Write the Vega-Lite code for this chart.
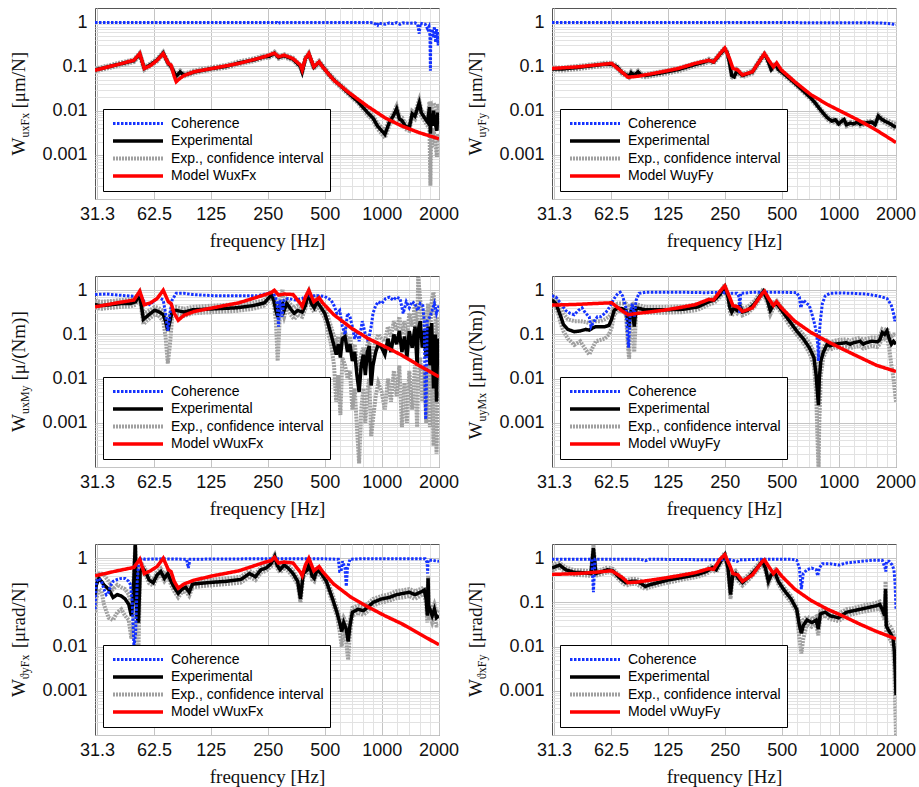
{
"$schema":"https://vega.github.io/schema/vega-lite/v6.json",
"background":"white",
"padding":{"left":8,"top":7,"right":5,"bottom":5},
"columns":2,
"spacing":{"row":77,"column":113},
"bounds":"flush",
"datasets":{
"p1":[
{"f":30.5,"l":0.077,"h":0.089,"e":0.083,"c":0.99,"m":0.082},
{"f":40,"l":0.102,"h":0.118,"e":0.11},{"f":49,"l":0.125,"h":0.145,"e":0.135},{"f":52.6,"l":0.176,"h":0.205,"e":0.19},{"f":55.6,"l":0.083,"h":0.097,"e":0.09},{"f":60,"l":0.102,"h":0.118,"e":0.11},{"f":65,"l":0.13,"h":0.15,"e":0.14},{"f":70,"l":0.186,"h":0.215,"e":0.2},{"f":74.5,"l":0.107,"h":0.124,"e":0.115},{"f":77,"l":0.093,"h":0.108,"e":0.1},{"f":80,"l":0.067,"h":0.078,"e":0.072},{"f":82,"l":0.056,"h":0.065,"e":0.06},{"f":86,"l":0.07,"h":0.081,"e":0.075},{"f":90,"l":0.059,"h":0.068,"e":0.063},{"f":102,"l":0.07,"h":0.081,"e":0.075},{"f":127,"l":0.084,"h":0.097,"e":0.09},{"f":150,"l":0.093,"h":0.108,"e":0.1},{"f":176,"l":0.112,"h":0.13,"e":0.12},{"f":210,"l":0.13,"h":0.151,"e":0.14},{"f":239,"l":0.153,"h":0.178,"e":0.165},{"f":255,"l":0.158,"h":0.184,"e":0.17},{"f":271,"l":0.186,"h":0.216,"e":0.2},{"f":285,"l":0.149,"h":0.173,"e":0.16},{"f":305,"l":0.163,"h":0.189,"e":0.175},{"f":340,"l":0.135,"h":0.157,"e":0.145},{"f":372,"l":0.093,"h":0.108,"e":0.1},{"f":380,"l":0.07,"h":0.081,"e":0.075},{"f":395,"l":0.14,"h":0.162,"e":0.15},{"f":412,"l":0.177,"h":0.205,"e":0.19},{"f":438,"l":0.088,"h":0.103,"e":0.095},{"f":467,"l":0.116,"h":0.135,"e":0.125},{"f":487,"l":0.093,"h":0.108,"e":0.1},{"f":520,"l":0.065,"h":0.076,"e":0.07},{"f":558,"l":0.046,"h":0.054,"e":0.05},{"f":600,"l":0.035,"h":0.041,"e":0.038},{"f":660,"l":0.024,"h":0.028,"e":0.026},{"f":750,"l":0.0147,"h":0.0174,"e":0.016},{"f":843,"l":0.008,"h":0.0101,"e":0.009},{"f":900,"l":0.006,"h":0.0077,"e":0.0068},{"f":950,"l":0.0039,"h":0.0052,"e":0.0045},{"f":1000,"l":0.003,"h":0.0041,"e":0.0035},{"f":1040,"l":0.0024,"h":0.0035,"e":0.0029},{"f":1100,"l":0.0047,"h":0.0064,"e":0.0055},{"f":1150,"l":0.0064,"h":0.0087,"e":0.0075},{"f":1200,"l":0.0094,"h":0.0128,"e":0.011},{"f":1240,"l":0.0055,"h":0.0076,"e":0.0065},{"f":1280,"l":0.0051,"h":0.007,"e":0.006},{"f":1330,"l":0.0038,"h":0.0053,"e":0.0045},{"f":1400,"l":0.0035,"h":0.0048,"e":0.0041},{"f":1450,"l":0.0072,"h":0.0099,"e":0.0085},{"f":1500,"l":0.0064,"h":0.0088,"e":0.0075},{"f":1580,"l":0.0128,"h":0.0176,"e":0.015},{"f":1620,"l":0.0076,"h":0.0105,"e":0.009},{"f":1700,"l":0.0055,"h":0.0076,"e":0.0065},{"f":1750,"l":0.0045,"h":0.0066,"e":0.0055},{"f":1790,"l":0.004,"h":0.016,"e":0.012},{"f":1810,"l":0.0002,"h":0.012,"e":0.003},{"f":1830,"l":0.003,"h":0.013,"e":0.008},{"f":1850,"l":0.0015,"h":0.01,"e":0.0045},{"f":1880,"l":0.004,"h":0.015,"e":0.01},{"f":1920,"l":0.0018,"h":0.012,"e":0.005},{"f":1960,"l":0.0009,"h":0.009,"e":0.0035},{"f":1980,"l":0.003,"h":0.014,"e":0.009},{"f":2010,"l":0.002,"h":0.011,"e":0.006},
{"f":40,"m":0.11},{"f":49,"m":0.138},{"f":52.6,"m":0.195},{"f":55.6,"m":0.09},{"f":60,"m":0.105},{"f":65,"m":0.138},{"f":70,"m":0.195},{"f":74.5,"m":0.117},{"f":77,"m":0.107},{"f":80,"m":0.06},{"f":82,"m":0.045},{"f":85,"m":0.052},{"f":90,"m":0.062},{"f":102,"m":0.076},{"f":127,"m":0.09},{"f":176,"m":0.117},{"f":239,"m":0.165},{"f":271,"m":0.2},{"f":285,"m":0.165},{"f":305,"m":0.18},{"f":340,"m":0.15},{"f":372,"m":0.107},{"f":380,"m":0.083},{"f":395,"m":0.15},{"f":412,"m":0.195},{"f":438,"m":0.098},{"f":467,"m":0.127},{"f":487,"m":0.098},{"f":558,"m":0.049},{"f":660,"m":0.027},{"f":843,"m":0.0125},{"f":1040,"m":0.0069},{"f":1276,"m":0.0045},{"f":1570,"m":0.0032},{"f":2010,"m":0.0023},
{"f":280,"c":0.99},{"f":285,"c":0.93},{"f":290,"c":0.99},{"f":900,"c":0.98},{"f":950,"c":0.85},{"f":960,"c":0.97},{"f":1000,"c":0.92},{"f":1050,"c":0.9},{"f":1100,"c":0.97},{"f":1150,"c":0.93},{"f":1200,"c":0.98},{"f":1250,"c":0.9},{"f":1300,"c":0.97},{"f":1400,"c":0.95},{"f":1500,"c":0.97},{"f":1550,"c":0.9},{"f":1580,"c":0.55},{"f":1600,"c":0.95},{"f":1700,"c":0.9},{"f":1750,"c":0.7},{"f":1780,"c":0.8},{"f":1800,"c":0.5},{"f":1810,"c":0.08},{"f":1820,"c":0.5},{"f":1850,"c":0.7},{"f":1880,"c":0.45},{"f":1900,"c":0.8},{"f":1930,"c":0.35},{"f":1950,"c":0.7},{"f":1970,"c":0.5},{"f":1990,"c":0.3},{"f":2010,"c":0.6}
],
"p2":[
{"f":30.5,"l":0.082,"h":0.095,"e":0.088,"c":0.99,"m":0.09},
{"f":35,"l":0.081,"h":0.095,"e":0.088},{"f":42,"l":0.087,"h":0.103,"e":0.095},{"f":51,"l":0.097,"h":0.113,"e":0.105},{"f":58,"l":0.103,"h":0.121,"e":0.112},{"f":63,"l":0.103,"h":0.121,"e":0.112},{"f":67,"l":0.092,"h":0.108,"e":0.1},{"f":71,"l":0.069,"h":0.081,"e":0.075},{"f":75,"l":0.06,"h":0.07,"e":0.065},{"f":78,"l":0.055,"h":0.065,"e":0.06},{"f":80,"l":0.066,"h":0.078,"e":0.072},{"f":83,"l":0.058,"h":0.068,"e":0.063},{"f":87,"l":0.069,"h":0.081,"e":0.075},{"f":90,"l":0.059,"h":0.069,"e":0.064},{"f":95,"l":0.057,"h":0.067,"e":0.062},{"f":117,"l":0.066,"h":0.078,"e":0.072},{"f":142,"l":0.078,"h":0.092,"e":0.085},{"f":174,"l":0.101,"h":0.119,"e":0.11},{"f":200,"l":0.12,"h":0.14,"e":0.13},{"f":206,"l":0.127,"h":0.149,"e":0.138},{"f":218,"l":0.115,"h":0.135,"e":0.125},{"f":236,"l":0.175,"h":0.205,"e":0.19},{"f":250,"l":0.23,"h":0.27,"e":0.25},{"f":258,"l":0.184,"h":0.216,"e":0.2},{"f":265,"l":0.11,"h":0.13,"e":0.12},{"f":272,"l":0.057,"h":0.067,"e":0.062},{"f":280,"l":0.053,"h":0.063,"e":0.058},{"f":290,"l":0.074,"h":0.086,"e":0.08},{"f":300,"l":0.064,"h":0.076,"e":0.07},{"f":310,"l":0.057,"h":0.067,"e":0.062},{"f":350,"l":0.069,"h":0.081,"e":0.075},{"f":395,"l":0.152,"h":0.178,"e":0.165},{"f":405,"l":0.17,"h":0.2,"e":0.185},{"f":415,"l":0.147,"h":0.173,"e":0.16},{"f":427,"l":0.11,"h":0.13,"e":0.12},{"f":440,"l":0.078,"h":0.092,"e":0.085},{"f":452,"l":0.092,"h":0.108,"e":0.1},{"f":465,"l":0.101,"h":0.119,"e":0.11},{"f":480,"l":0.078,"h":0.092,"e":0.085},{"f":500,"l":0.069,"h":0.081,"e":0.075},{"f":586,"l":0.039,"h":0.045,"e":0.042},{"f":650,"l":0.026,"h":0.03,"e":0.028},{"f":716,"l":0.0175,"h":0.0205,"e":0.019},{"f":760,"l":0.0129,"h":0.0151,"e":0.014},{"f":800,"l":0.0097,"h":0.0113,"e":0.0105},{"f":840,"l":0.0075,"h":0.0089,"e":0.0082},{"f":874,"l":0.0062,"h":0.0074,"e":0.0068},{"f":920,"l":0.0053,"h":0.0063,"e":0.0058},{"f":960,"l":0.0057,"h":0.0067,"e":0.0062},{"f":1000,"l":0.0046,"h":0.0054,"e":0.005},{"f":1040,"l":0.0053,"h":0.0063,"e":0.0058},{"f":1067,"l":0.0058,"h":0.0068,"e":0.0063},{"f":1100,"l":0.0044,"h":0.0052,"e":0.0048},{"f":1150,"l":0.0048,"h":0.0056,"e":0.0052},{"f":1200,"l":0.0046,"h":0.0054,"e":0.005},{"f":1250,"l":0.0051,"h":0.0059,"e":0.0055},{"f":1300,"l":0.0045,"h":0.0053,"e":0.0049},{"f":1400,"l":0.0049,"h":0.0057,"e":0.0053},{"f":1500,"l":0.0051,"h":0.006,"e":0.0055},{"f":1560,"l":0.0044,"h":0.0053,"e":0.0048},{"f":1620,"l":0.0069,"h":0.0081,"e":0.0075},{"f":1680,"l":0.006,"h":0.0071,"e":0.0065},{"f":1750,"l":0.0053,"h":0.0064,"e":0.0058},{"f":1850,"l":0.0047,"h":0.0058,"e":0.0052},{"f":1950,"l":0.004,"h":0.0052,"e":0.0045},{"f":2010,"l":0.0037,"h":0.005,"e":0.0042},
{"f":42,"m":0.098},{"f":51,"m":0.107},{"f":63,"m":0.117},{"f":71,"m":0.076},{"f":77,"m":0.057},{"f":87,"m":0.06},{"f":117,"m":0.076},{"f":142,"m":0.09},{"f":174,"m":0.117},{"f":206,"m":0.138},{"f":218,"m":0.127},{"f":236,"m":0.195},{"f":250,"m":0.26},{"f":265,"m":0.15},{"f":276,"m":0.09},{"f":293,"m":0.083},{"f":310,"m":0.064},{"f":350,"m":0.076},{"f":395,"m":0.165},{"f":405,"m":0.195},{"f":427,"m":0.138},{"f":452,"m":0.098},{"f":470,"m":0.12},{"f":498,"m":0.083},{"f":586,"m":0.045},{"f":716,"m":0.0227},{"f":874,"m":0.0137},{"f":1067,"m":0.0089},{"f":1300,"m":0.0058},{"f":1586,"m":0.0036},{"f":2010,"m":0.0019},
{"f":250,"c":0.99},{"f":255,"c":0.96},{"f":260,"c":0.99},{"f":1500,"c":0.97},{"f":1700,"c":0.96},{"f":1800,"c":0.94},{"f":1900,"c":0.92},{"f":1950,"c":0.9},{"f":2010,"c":0.88}
],
"p3":[
{"f":30.5,"l":0.4,"h":0.58,"e":0.47,"c":0.8,"m":0.42},
{"f":33,"e":0.45,"l":0.38,"h":0.55},{"f":37,"e":0.47,"l":0.4,"h":0.57},{"f":42,"e":0.5,"l":0.42,"h":0.6},{"f":47,"e":0.5,"l":0.43,"h":0.62},{"f":50,"e":0.55,"l":0.47,"h":0.68},{"f":52.5,"e":0.8,"l":0.7,"h":0.92},{"f":55,"e":0.22,"l":0.17,"h":0.3},{"f":57,"e":0.25,"l":0.2,"h":0.32},{"f":60,"e":0.3,"l":0.24,"h":0.36},{"f":63,"e":0.35,"l":0.28,"h":0.42},{"f":66,"e":0.33,"l":0.27,"h":0.4},{"f":70,"e":0.28,"l":0.2,"h":0.34},{"f":72,"e":0.2,"l":0.09,"h":0.26},{"f":74,"e":0.12,"l":0.022,"h":0.16},{"f":76,"e":0.2,"l":0.06,"h":0.28},{"f":78,"e":0.33,"l":0.25,"h":0.4},{"f":82,"e":0.35,"l":0.28,"h":0.42},{"f":90,"e":0.32,"l":0.26,"h":0.38},{"f":100,"e":0.36,"l":0.3,"h":0.42},{"f":130,"e":0.38,"l":0.32,"h":0.45},{"f":170,"e":0.4,"l":0.34,"h":0.48},{"f":210,"e":0.45,"l":0.38,"h":0.52},{"f":240,"e":0.52,"l":0.45,"h":0.6},{"f":255,"e":0.7,"l":0.6,"h":0.82},{"f":262,"e":0.8,"l":0.7,"h":0.95},{"f":270,"e":0.55,"l":0.45,"h":0.7},{"f":276,"e":0.35,"l":0.2,"h":0.5},{"f":282,"e":0.25,"l":0.025,"h":0.45},{"f":290,"e":0.45,"l":0.3,"h":0.6},{"f":299,"e":0.5,"l":0.35,"h":1.05},{"f":305,"e":0.35,"l":0.25,"h":0.5},{"f":315,"e":0.5,"l":0.4,"h":0.62},{"f":330,"e":0.38,"l":0.28,"h":0.48},{"f":345,"e":0.3,"l":0.22,"h":0.4},{"f":360,"e":0.35,"l":0.28,"h":0.45},{"f":380,"e":0.32,"l":0.25,"h":0.4},{"f":395,"e":0.45,"l":0.38,"h":0.55},{"f":405,"e":0.7,"l":0.6,"h":0.85},{"f":412,"e":0.85,"l":0.75,"h":0.98},{"f":425,"e":0.5,"l":0.4,"h":0.62},{"f":440,"e":0.4,"l":0.32,"h":0.5},{"f":455,"e":0.55,"l":0.45,"h":0.68},{"f":475,"e":0.42,"l":0.34,"h":0.52},{"f":500,"e":0.3,"l":0.24,"h":0.38},{"f":520,"e":0.18,"l":0.12,"h":0.25},{"f":540,"e":0.1,"l":0.06,"h":0.15},{"f":560,"e":0.055,"l":0.02,"h":0.09},{"f":575,"e":0.035,"l":0.003,"h":0.06},{"f":590,"e":0.06,"l":0.012,"h":0.09},{"f":605,"e":0.03,"l":0.0015,"h":0.05},{"f":620,"e":0.08,"l":0.03,"h":0.1},{"f":640,"e":0.09,"l":0.02,"h":0.12},{"f":660,"e":0.04,"l":0.01,"h":0.06},{"f":680,"e":0.06,"l":0.015,"h":0.09},{"f":700,"e":0.025,"l":0.002,"h":0.04},{"f":720,"e":0.04,"l":0.006,"h":0.06},{"f":740,"e":0.012,"l":0.0008,"h":0.025},{"f":760,"e":0.005,"l":0.00012,"h":0.015},{"f":780,"e":0.02,"l":0.002,"h":0.035},{"f":800,"e":0.035,"l":0.006,"h":0.05},{"f":820,"e":0.012,"l":0.001,"h":0.025},{"f":840,"e":0.04,"l":0.005,"h":0.06},{"f":860,"e":0.055,"l":0.01,"h":0.08},{"f":880,"e":0.007,"l":0.0005,"h":0.015},{"f":900,"e":0.02,"l":0.0012,"h":0.04},{"f":930,"e":0.04,"l":0.004,"h":0.07},{"f":960,"e":0.06,"l":0.008,"h":0.1},{"f":1000,"e":0.05,"l":0.005,"h":0.08},{"f":1040,"e":0.035,"l":0.002,"h":0.07},{"f":1080,"e":0.08,"l":0.01,"h":0.15},{"f":1120,"e":0.04,"l":0.003,"h":0.09},{"f":1160,"e":0.1,"l":0.015,"h":0.2},{"f":1200,"e":0.06,"l":0.004,"h":0.12},{"f":1240,"e":0.12,"l":0.02,"h":0.25},{"f":1280,"e":0.04,"l":0.0008,"h":0.1},{"f":1320,"e":0.09,"l":0.008,"h":0.2},{"f":1360,"e":0.03,"l":0.001,"h":0.08},{"f":1400,"e":0.12,"l":0.015,"h":0.3},{"f":1450,"e":0.05,"l":0.002,"h":0.15},{"f":1500,"e":0.15,"l":0.02,"h":0.5},{"f":1540,"e":0.02,"l":0.0008,"h":0.08},{"f":1560,"e":0.12,"l":0.01,"h":2.0},{"f":1600,"e":0.2,"l":0.03,"h":0.6},{"f":1640,"e":0.05,"l":0.003,"h":0.15},{"f":1680,"e":0.12,"l":0.015,"h":0.35},{"f":1720,"e":0.03,"l":0.001,"h":0.1},{"f":1760,"e":0.15,"l":0.02,"h":0.5},{"f":1800,"e":0.02,"l":0.0008,"h":0.08},{"f":1840,"e":0.18,"l":0.03,"h":0.6},{"f":1880,"e":0.006,"l":0.0003,"h":0.9},{"f":1920,"e":0.1,"l":0.01,"h":0.3},{"f":1950,"e":0.003,"l":0.0002,"h":0.05},{"f":1980,"e":0.08,"l":0.005,"h":0.25},{"f":2010,"e":0.05,"l":0.004,"h":0.15},
{"f":40,"m":0.52},{"f":49,"m":0.6},{"f":52.6,"m":0.95},{"f":55.6,"m":0.47},{"f":60,"m":0.52},{"f":65,"m":0.65},{"f":70,"m":1.0},{"f":74.5,"m":0.55},{"f":77,"m":0.5},{"f":80,"m":0.3},{"f":84,"m":0.21},{"f":90,"m":0.27},{"f":102,"m":0.33},{"f":128,"m":0.4},{"f":176,"m":0.52},{"f":239,"m":0.78},{"f":260,"m":0.88},{"f":271,"m":1.0},{"f":285,"m":0.78},{"f":305,"m":0.82},{"f":340,"m":0.8},{"f":372,"m":0.5},{"f":380,"m":0.43},{"f":395,"m":0.7},{"f":412,"m":1.0},{"f":438,"m":0.55},{"f":467,"m":0.68},{"f":487,"m":0.52},{"f":558,"m":0.28},{"f":690,"m":0.14},{"f":843,"m":0.082},{"f":1040,"m":0.053},{"f":1276,"m":0.034},{"f":1570,"m":0.02},{"f":2010,"m":0.011},
{"f":35,"c":0.82},{"f":40,"c":0.78},{"f":45,"c":0.75},{"f":50,"c":0.72},{"f":53,"c":0.8},{"f":56,"c":0.5},{"f":58,"c":0.45},{"f":62,"c":0.55},{"f":66,"c":0.7},{"f":70,"c":0.6},{"f":72,"c":0.3},{"f":74,"c":0.12},{"f":76,"c":0.3},{"f":78,"c":0.6},{"f":82,"c":0.85},{"f":90,"c":0.85},{"f":100,"c":0.8},{"f":130,"c":0.75},{"f":170,"c":0.75},{"f":220,"c":0.75},{"f":250,"c":0.85},{"f":265,"c":0.9},{"f":275,"c":0.7},{"f":280,"c":0.5},{"f":285,"c":0.15},{"f":290,"c":0.6},{"f":297,"c":0.25},{"f":305,"c":0.6},{"f":320,"c":0.65},{"f":350,"c":0.6},{"f":380,"c":0.65},{"f":400,"c":0.75},{"f":430,"c":0.75},{"f":470,"c":0.75},{"f":500,"c":0.72},{"f":540,"c":0.6},{"f":560,"c":0.45},{"f":580,"c":0.3},{"f":600,"c":0.35},{"f":620,"c":0.15},{"f":640,"c":0.1},{"f":660,"c":0.3},{"f":680,"c":0.25},{"f":700,"c":0.15},{"f":720,"c":0.08},{"f":740,"c":0.12},{"f":760,"c":0.07},{"f":790,"c":0.2},{"f":820,"c":0.1},{"f":850,"c":0.07},{"f":880,"c":0.15},{"f":900,"c":0.3},{"f":930,"c":0.45},{"f":960,"c":0.55},{"f":1000,"c":0.5},{"f":1050,"c":0.65},{"f":1100,"c":0.7},{"f":1150,"c":0.6},{"f":1200,"c":0.7},{"f":1250,"c":0.65},{"f":1300,"c":0.3},{"f":1350,"c":0.55},{"f":1400,"c":0.4},{"f":1450,"c":0.55},{"f":1500,"c":0.5},{"f":1550,"c":0.35},{"f":1600,"c":0.5},{"f":1650,"c":0.45},{"f":1680,"c":0.2},{"f":1700,"c":0.003},{"f":1710,"c":0.0012},{"f":1720,"c":0.003},{"f":1740,"c":0.2},{"f":1800,"c":0.25},{"f":1850,"c":0.35},{"f":1900,"c":0.5},{"f":1950,"c":0.3},{"f":2010,"c":0.45}
],
"p4":[
{"f":30.5,"l":0.5,"h":0.75,"e":0.6,"c":0.75,"m":0.46},
{"f":32,"e":0.5,"l":0.42,"h":0.65},{"f":33,"e":0.35,"l":0.28,"h":0.5},{"f":34,"e":0.25,"l":0.17,"h":0.4},{"f":35,"e":0.17,"l":0.12,"h":0.3},{"f":37,"e":0.13,"l":0.08,"h":0.22},{"f":40,"e":0.115,"l":0.058,"h":0.2},{"f":43,"e":0.12,"l":0.07,"h":0.2},{"f":46,"e":0.13,"l":0.045,"h":0.19},{"f":48,"e":0.125,"l":0.035,"h":0.18},{"f":50,"e":0.14,"l":0.05,"h":0.2},{"f":52,"e":0.15,"l":0.07,"h":0.2},{"f":55,"e":0.15,"l":0.075,"h":0.2},{"f":58,"e":0.15,"l":0.08,"h":0.22},{"f":61,"e":0.16,"l":0.1,"h":0.25},{"f":63,"e":0.22,"l":0.14,"h":0.3},{"f":65,"e":0.35,"l":0.28,"h":0.45},{"f":68,"e":0.4,"l":0.35,"h":0.5},{"f":72,"e":0.38,"l":0.33,"h":0.5},{"f":75,"e":0.35,"l":0.28,"h":0.5},{"f":77,"e":0.2,"l":0.05,"h":0.45},{"f":78,"e":0.15,"l":0.028,"h":0.3},{"f":79,"e":0.3,"l":0.15,"h":0.45},{"f":81,"e":0.4,"l":0.33,"h":0.48},{"f":83,"e":0.15,"l":0.04,"h":0.3},{"f":85,"e":0.4,"l":0.33,"h":0.48},{"f":95,"e":0.36,"l":0.31,"h":0.42},{"f":120,"e":0.36,"l":0.31,"h":0.42},{"f":150,"e":0.37,"l":0.32,"h":0.43},{"f":180,"e":0.42,"l":0.36,"h":0.48},{"f":206,"e":0.55,"l":0.47,"h":0.62},{"f":220,"e":0.6,"l":0.52,"h":0.68},{"f":236,"e":0.8,"l":0.7,"h":0.9},{"f":250,"e":1.2,"l":1.05,"h":1.35},{"f":260,"e":0.7,"l":0.6,"h":0.8},{"f":266,"e":0.4,"l":0.33,"h":0.48},{"f":272,"e":0.32,"l":0.26,"h":0.38},{"f":280,"e":0.4,"l":0.34,"h":0.47},{"f":290,"e":0.35,"l":0.3,"h":0.42},{"f":300,"e":0.45,"l":0.38,"h":0.52},{"f":310,"e":0.32,"l":0.27,"h":0.38},{"f":330,"e":0.35,"l":0.3,"h":0.42},{"f":360,"e":0.5,"l":0.43,"h":0.58},{"f":400,"e":0.95,"l":0.85,"h":1.08},{"f":420,"e":0.6,"l":0.5,"h":0.7},{"f":435,"e":0.35,"l":0.28,"h":0.42},{"f":450,"e":0.45,"l":0.38,"h":0.52},{"f":470,"e":0.5,"l":0.43,"h":0.58},{"f":500,"e":0.35,"l":0.3,"h":0.41},{"f":550,"e":0.2,"l":0.16,"h":0.24},{"f":600,"e":0.12,"l":0.1,"h":0.15},{"f":650,"e":0.08,"l":0.065,"h":0.1},{"f":700,"e":0.05,"l":0.038,"h":0.065},{"f":740,"e":0.03,"l":0.02,"h":0.04},{"f":760,"e":0.012,"l":0.005,"h":0.02},{"f":775,"e":0.004,"l":0.0003,"h":0.009},{"f":782,"e":0.0025,"l":0.0001,"h":0.006},{"f":790,"e":0.01,"l":0.001,"h":0.02},{"f":805,"e":0.025,"l":0.012,"h":0.035},{"f":830,"e":0.04,"l":0.03,"h":0.05},{"f":870,"e":0.06,"l":0.048,"h":0.072},{"f":900,"e":0.055,"l":0.045,"h":0.065},{"f":950,"e":0.06,"l":0.05,"h":0.072},{"f":1000,"e":0.062,"l":0.05,"h":0.075},{"f":1100,"e":0.065,"l":0.052,"h":0.078},{"f":1150,"e":0.06,"l":0.048,"h":0.072},{"f":1200,"e":0.065,"l":0.052,"h":0.078},{"f":1300,"e":0.07,"l":0.055,"h":0.085},{"f":1350,"e":0.06,"l":0.048,"h":0.072},{"f":1400,"e":0.065,"l":0.05,"h":0.08},{"f":1500,"e":0.07,"l":0.055,"h":0.085},{"f":1600,"e":0.068,"l":0.052,"h":0.085},{"f":1650,"e":0.075,"l":0.06,"h":0.09},{"f":1700,"e":0.11,"l":0.09,"h":0.13},{"f":1750,"e":0.1,"l":0.08,"h":0.12},{"f":1800,"e":0.12,"l":0.09,"h":0.14},{"f":1850,"e":0.08,"l":0.05,"h":0.1},{"f":1900,"e":0.06,"l":0.02,"h":0.09},{"f":1950,"e":0.07,"l":0.01,"h":0.1},{"f":2010,"e":0.06,"l":0.003,"h":0.1},
{"f":42,"m":0.48},{"f":51,"m":0.5},{"f":63,"m":0.52},{"f":71,"m":0.35},{"f":77,"m":0.28},{"f":87,"m":0.3},{"f":117,"m":0.35},{"f":142,"m":0.4},{"f":174,"m":0.47},{"f":206,"m":0.62},{"f":218,"m":0.6},{"f":236,"m":0.95},{"f":250,"m":1.25},{"f":265,"m":0.7},{"f":276,"m":0.45},{"f":293,"m":0.42},{"f":310,"m":0.33},{"f":350,"m":0.4},{"f":395,"m":0.85},{"f":405,"m":0.95},{"f":427,"m":0.65},{"f":452,"m":0.45},{"f":470,"m":0.55},{"f":498,"m":0.4},{"f":586,"m":0.2},{"f":716,"m":0.11},{"f":874,"m":0.069},{"f":1067,"m":0.045},{"f":1300,"m":0.03},{"f":1586,"m":0.02},{"f":2010,"m":0.0145},
{"f":32,"c":0.7},{"f":34,"c":0.5},{"f":36,"c":0.35},{"f":38,"c":0.3},{"f":40,"c":0.28},{"f":42,"c":0.35},{"f":44,"c":0.4},{"f":46,"c":0.3},{"f":48,"c":0.25},{"f":49,"c":0.15},{"f":51,"c":0.2},{"f":53,"c":0.25},{"f":55,"c":0.25},{"f":58,"c":0.3},{"f":60,"c":0.35},{"f":62,"c":0.45},{"f":65,"c":0.65},{"f":68,"c":0.85},{"f":70,"c":0.9},{"f":72,"c":0.75},{"f":75,"c":0.4},{"f":76.5,"c":0.1},{"f":77.5,"c":0.05},{"f":79,"c":0.3},{"f":81,"c":0.5},{"f":83,"c":0.25},{"f":85,"c":0.6},{"f":88,"c":0.85},{"f":95,"c":0.9},{"f":150,"c":0.9},{"f":200,"c":0.88},{"f":240,"c":0.9},{"f":260,"c":0.85},{"f":290,"c":0.85},{"f":298,"c":0.7},{"f":300,"c":0.3},{"f":303,"c":0.85},{"f":350,"c":0.9},{"f":500,"c":0.9},{"f":600,"c":0.88},{"f":620,"c":0.7},{"f":630,"c":0.4},{"f":650,"c":0.6},{"f":680,"c":0.5},{"f":700,"c":0.45},{"f":720,"c":0.3},{"f":740,"c":0.2},{"f":760,"c":0.12},{"f":775,"c":0.06},{"f":782,"c":0.025},{"f":790,"c":0.1},{"f":800,"c":0.2},{"f":820,"c":0.5},{"f":850,"c":0.75},{"f":900,"c":0.85},{"f":1000,"c":0.87},{"f":1200,"c":0.85},{"f":1400,"c":0.82},{"f":1500,"c":0.78},{"f":1600,"c":0.75},{"f":1700,"c":0.7},{"f":1800,"c":0.65},{"f":1850,"c":0.55},{"f":1900,"c":0.45},{"f":1950,"c":0.3},{"f":1980,"c":0.2},{"f":2010,"c":0.28}
],
"p5":[
{"f":30.5,"l":0.06,"h":0.25,"e":0.15,"c":0.07,"m":0.4},
{"f":31,"e":0.25,"l":0.12,"h":0.4},{"f":32,"e":0.35,"l":0.2,"h":0.45},{"f":33,"e":0.3,"l":0.18,"h":0.45},{"f":34,"e":0.25,"l":0.09,"h":0.42},{"f":36,"e":0.2,"l":0.045,"h":0.3},{"f":38,"e":0.13,"l":0.04,"h":0.2},{"f":40,"e":0.15,"l":0.06,"h":0.25},{"f":42,"e":0.14,"l":0.07,"h":0.22},{"f":44,"e":0.12,"l":0.05,"h":0.2},{"f":46,"e":0.09,"l":0.04,"h":0.15},{"f":47.5,"e":0.05,"l":0.015,"h":0.09},{"f":48.5,"e":0.12,"l":0.03,"h":0.2},{"f":49.8,"e":2.0,"l":1.8,"h":2.0},{"f":50.8,"e":0.05,"l":0.01,"h":0.1},{"f":51.8,"e":0.035,"l":0.01,"h":0.06},{"f":52.8,"e":0.5,"l":0.4,"h":0.6},{"f":54.5,"e":0.6,"l":0.5,"h":0.7},{"f":57,"e":0.45,"l":0.38,"h":0.52},{"f":59,"e":0.32,"l":0.27,"h":0.38},{"f":62,"e":0.28,"l":0.24,"h":0.33},{"f":65,"e":0.42,"l":0.36,"h":0.48},{"f":68,"e":0.5,"l":0.43,"h":0.58},{"f":71,"e":0.35,"l":0.3,"h":0.42},{"f":74,"e":0.45,"l":0.38,"h":0.52},{"f":77,"e":0.3,"l":0.25,"h":0.36},{"f":80,"e":0.22,"l":0.18,"h":0.26},{"f":84,"e":0.16,"l":0.13,"h":0.2},{"f":88,"e":0.2,"l":0.17,"h":0.24},{"f":92,"e":0.22,"l":0.18,"h":0.26},{"f":96,"e":0.17,"l":0.14,"h":0.2},{"f":100,"e":0.26,"l":0.22,"h":0.3},{"f":120,"e":0.28,"l":0.24,"h":0.32},{"f":150,"e":0.3,"l":0.26,"h":0.35},{"f":180,"e":0.33,"l":0.28,"h":0.38},{"f":200,"e":0.45,"l":0.38,"h":0.52},{"f":215,"e":0.38,"l":0.32,"h":0.44},{"f":230,"e":0.55,"l":0.47,"h":0.62},{"f":245,"e":0.6,"l":0.52,"h":0.7},{"f":260,"e":0.75,"l":0.65,"h":0.85},{"f":272,"e":1.1,"l":0.95,"h":1.2},{"f":280,"e":0.7,"l":0.6,"h":0.8},{"f":290,"e":0.55,"l":0.47,"h":0.63},{"f":305,"e":0.7,"l":0.6,"h":0.8},{"f":320,"e":0.6,"l":0.52,"h":0.7},{"f":340,"e":0.45,"l":0.38,"h":0.52},{"f":360,"e":0.3,"l":0.25,"h":0.35},{"f":372,"e":0.12,"l":0.1,"h":0.15},{"f":385,"e":0.45,"l":0.38,"h":0.52},{"f":405,"e":0.55,"l":0.47,"h":0.63},{"f":415,"e":0.8,"l":0.7,"h":0.9},{"f":428,"e":0.4,"l":0.33,"h":0.47},{"f":440,"e":0.35,"l":0.3,"h":0.42},{"f":455,"e":0.55,"l":0.47,"h":0.62},{"f":480,"e":0.45,"l":0.38,"h":0.52},{"f":510,"e":0.3,"l":0.25,"h":0.36},{"f":550,"e":0.12,"l":0.1,"h":0.15},{"f":580,"e":0.06,"l":0.05,"h":0.075},{"f":600,"e":0.035,"l":0.022,"h":0.045},{"f":615,"e":0.022,"l":0.01,"h":0.03},{"f":630,"e":0.035,"l":0.025,"h":0.045},{"f":650,"e":0.025,"l":0.012,"h":0.035},{"f":665,"e":0.013,"l":0.005,"h":0.02},{"f":680,"e":0.03,"l":0.02,"h":0.04},{"f":700,"e":0.06,"l":0.05,"h":0.075},{"f":750,"e":0.07,"l":0.058,"h":0.085},{"f":800,"e":0.065,"l":0.052,"h":0.08},{"f":850,"e":0.08,"l":0.065,"h":0.095},{"f":900,"e":0.1,"l":0.085,"h":0.12},{"f":1000,"e":0.12,"l":0.1,"h":0.14},{"f":1100,"e":0.13,"l":0.11,"h":0.155},{"f":1200,"e":0.15,"l":0.125,"h":0.18},{"f":1300,"e":0.16,"l":0.13,"h":0.19},{"f":1400,"e":0.17,"l":0.14,"h":0.2},{"f":1500,"e":0.15,"l":0.12,"h":0.18},{"f":1600,"e":0.17,"l":0.14,"h":0.2},{"f":1680,"e":0.19,"l":0.16,"h":0.22},{"f":1720,"e":0.12,"l":0.09,"h":0.15},{"f":1745,"e":0.05,"l":0.035,"h":0.065},{"f":1760,"e":0.35,"l":0.25,"h":0.4},{"f":1775,"e":0.06,"l":0.04,"h":0.08},{"f":1800,"e":0.07,"l":0.05,"h":0.09},{"f":1850,"e":0.05,"l":0.035,"h":0.065},{"f":1900,"e":0.07,"l":0.05,"h":0.09},{"f":1950,"e":0.045,"l":0.03,"h":0.06},{"f":2010,"e":0.05,"l":0.03,"h":0.07},
{"f":40,"m":0.52},{"f":49,"m":0.62},{"f":52.6,"m":0.95},{"f":55.6,"m":0.45},{"f":60,"m":0.52},{"f":65,"m":0.65},{"f":70,"m":1.0},{"f":74.5,"m":0.55},{"f":77,"m":0.5},{"f":80,"m":0.3},{"f":84,"m":0.21},{"f":90,"m":0.26},{"f":102,"m":0.32},{"f":128,"m":0.4},{"f":176,"m":0.52},{"f":239,"m":0.8},{"f":260,"m":0.88},{"f":271,"m":1.05},{"f":285,"m":0.78},{"f":305,"m":0.82},{"f":340,"m":0.78},{"f":372,"m":0.48},{"f":380,"m":0.4},{"f":395,"m":0.7},{"f":412,"m":1.0},{"f":438,"m":0.52},{"f":467,"m":0.65},{"f":487,"m":0.5},{"f":558,"m":0.26},{"f":690,"m":0.13},{"f":843,"m":0.08},{"f":1040,"m":0.05},{"f":1276,"m":0.033},{"f":1570,"m":0.02},{"f":2010,"m":0.011},
{"f":31,"c":0.3},{"f":32,"c":0.35},{"f":33,"c":0.3},{"f":34,"c":0.2},{"f":35,"c":0.15},{"f":36,"c":0.17},{"f":37,"c":0.25},{"f":38,"c":0.3},{"f":40,"c":0.33},{"f":42,"c":0.35},{"f":44,"c":0.35},{"f":46,"c":0.3},{"f":47,"c":0.25},{"f":48,"c":0.1},{"f":49,"c":0.01},{"f":50,"c":0.02},{"f":51,"c":0.3},{"f":52,"c":0.9},{"f":54,"c":1.0},{"f":56,"c":0.95},{"f":70,"c":0.97},{"f":93,"c":0.95},{"f":95,"c":0.6},{"f":97,"c":0.95},{"f":200,"c":0.97},{"f":500,"c":0.97},{"f":590,"c":0.95},{"f":600,"c":0.5},{"f":610,"c":0.5},{"f":620,"c":0.85},{"f":640,"c":0.6},{"f":650,"c":0.23},{"f":660,"c":0.6},{"f":680,"c":0.95},{"f":800,"c":0.98},{"f":1700,"c":0.97},{"f":1740,"c":0.8},{"f":1750,"c":0.45},{"f":1760,"c":0.9},{"f":1850,"c":0.9},{"f":2010,"c":0.85}
],
"p6":[
{"f":30.5,"l":0.52,"h":0.7,"e":0.6,"c":0.95,"m":0.43},
{"f":32,"e":0.65,"l":0.58,"h":0.75},{"f":33.5,"e":0.7,"l":0.62,"h":0.78},{"f":36,"e":0.55,"l":0.48,"h":0.62},{"f":40,"e":0.48,"l":0.42,"h":0.54},{"f":45,"e":0.47,"l":0.41,"h":0.53},{"f":49,"e":0.45,"l":0.4,"h":0.5},{"f":50.5,"e":1.7,"l":1.5,"h":2.0},{"f":52,"e":0.45,"l":0.4,"h":0.5},{"f":56,"e":0.5,"l":0.44,"h":0.56},{"f":60,"e":0.55,"l":0.48,"h":0.62},{"f":64,"e":0.52,"l":0.46,"h":0.58},{"f":67,"e":0.42,"l":0.37,"h":0.47},{"f":71,"e":0.33,"l":0.29,"h":0.38},{"f":75,"e":0.28,"l":0.24,"h":0.32},{"f":80,"e":0.3,"l":0.26,"h":0.34},{"f":85,"e":0.3,"l":0.26,"h":0.34},{"f":90,"e":0.27,"l":0.23,"h":0.31},{"f":95,"e":0.23,"l":0.2,"h":0.26},{"f":100,"e":0.25,"l":0.22,"h":0.28},{"f":125,"e":0.32,"l":0.28,"h":0.36},{"f":150,"e":0.37,"l":0.33,"h":0.42},{"f":180,"e":0.43,"l":0.38,"h":0.48},{"f":200,"e":0.5,"l":0.44,"h":0.56},{"f":215,"e":0.62,"l":0.55,"h":0.7},{"f":225,"e":0.55,"l":0.48,"h":0.62},{"f":236,"e":0.8,"l":0.7,"h":0.9},{"f":250,"e":1.2,"l":1.05,"h":1.35},{"f":260,"e":0.6,"l":0.52,"h":0.68},{"f":268,"e":0.15,"l":0.12,"h":0.18},{"f":275,"e":0.4,"l":0.34,"h":0.46},{"f":285,"e":0.45,"l":0.38,"h":0.52},{"f":295,"e":0.35,"l":0.3,"h":0.4},{"f":310,"e":0.28,"l":0.24,"h":0.32},{"f":340,"e":0.4,"l":0.35,"h":0.46},{"f":370,"e":0.6,"l":0.52,"h":0.68},{"f":395,"e":0.85,"l":0.75,"h":0.95},{"f":410,"e":0.6,"l":0.52,"h":0.68},{"f":425,"e":0.3,"l":0.26,"h":0.35},{"f":440,"e":0.42,"l":0.36,"h":0.48},{"f":460,"e":0.48,"l":0.42,"h":0.55},{"f":480,"e":0.3,"l":0.26,"h":0.35},{"f":510,"e":0.2,"l":0.17,"h":0.23},{"f":560,"e":0.12,"l":0.1,"h":0.14},{"f":600,"e":0.07,"l":0.06,"h":0.08},{"f":620,"e":0.03,"l":0.015,"h":0.04},{"f":635,"e":0.02,"l":0.007,"h":0.03},{"f":650,"e":0.03,"l":0.015,"h":0.04},{"f":680,"e":0.04,"l":0.033,"h":0.048},{"f":720,"e":0.035,"l":0.028,"h":0.042},{"f":760,"e":0.04,"l":0.033,"h":0.048},{"f":780,"e":0.025,"l":0.018,"h":0.032},{"f":800,"e":0.055,"l":0.045,"h":0.065},{"f":850,"e":0.06,"l":0.05,"h":0.07},{"f":900,"e":0.05,"l":0.042,"h":0.06},{"f":1000,"e":0.045,"l":0.038,"h":0.055},{"f":1100,"e":0.06,"l":0.05,"h":0.07},{"f":1200,"e":0.065,"l":0.055,"h":0.075},{"f":1300,"e":0.07,"l":0.06,"h":0.082},{"f":1400,"e":0.075,"l":0.063,"h":0.088},{"f":1500,"e":0.08,"l":0.067,"h":0.093},{"f":1600,"e":0.085,"l":0.07,"h":0.1},{"f":1650,"e":0.09,"l":0.075,"h":0.105},{"f":1700,"e":0.07,"l":0.058,"h":0.082},{"f":1750,"e":0.05,"l":0.04,"h":0.06},{"f":1770,"e":0.2,"l":0.15,"h":0.3},{"f":1785,"e":0.03,"l":0.02,"h":0.045},{"f":1820,"e":0.025,"l":0.018,"h":0.032},{"f":1880,"e":0.02,"l":0.014,"h":0.028},{"f":1940,"e":0.015,"l":0.01,"h":0.022},{"f":1970,"e":0.008,"l":0.003,"h":0.014},{"f":1990,"e":0.003,"l":0.0005,"h":0.008},{"f":2010,"e":0.0008,"l":0.0001,"h":0.004},
{"f":42,"m":0.45},{"f":51,"m":0.48},{"f":63,"m":0.52},{"f":71,"m":0.38},{"f":77,"m":0.28},{"f":87,"m":0.29},{"f":117,"m":0.35},{"f":142,"m":0.4},{"f":174,"m":0.47},{"f":206,"m":0.58},{"f":218,"m":0.56},{"f":236,"m":0.95},{"f":250,"m":1.2},{"f":265,"m":0.7},{"f":276,"m":0.45},{"f":293,"m":0.42},{"f":310,"m":0.3},{"f":350,"m":0.42},{"f":395,"m":0.85},{"f":405,"m":0.92},{"f":427,"m":0.65},{"f":452,"m":0.45},{"f":470,"m":0.55},{"f":498,"m":0.4},{"f":586,"m":0.2},{"f":716,"m":0.11},{"f":874,"m":0.07},{"f":1067,"m":0.048},{"f":1300,"m":0.032},{"f":1586,"m":0.022},{"f":2010,"m":0.015},
{"f":49.5,"c":0.95},{"f":50.5,"c":0.17},{"f":51.5,"c":0.95},{"f":90,"c":0.95},{"f":95,"c":0.88},{"f":100,"c":0.95},{"f":230,"c":0.92},{"f":260,"c":0.95},{"f":290,"c":0.85},{"f":300,"c":0.92},{"f":400,"c":0.95},{"f":560,"c":0.95},{"f":600,"c":0.9},{"f":620,"c":0.6},{"f":635,"c":0.2},{"f":650,"c":0.45},{"f":680,"c":0.55},{"f":720,"c":0.6},{"f":760,"c":0.55},{"f":775,"c":0.4},{"f":790,"c":0.6},{"f":820,"c":0.75},{"f":900,"c":0.75},{"f":1000,"c":0.7},{"f":1100,"c":0.78},{"f":1300,"c":0.85},{"f":1500,"c":0.9},{"f":1700,"c":0.9},{"f":1760,"c":0.6},{"f":1775,"c":0.5},{"f":1790,"c":0.85},{"f":1850,"c":0.85},{"f":1920,"c":0.7},{"f":1960,"c":0.55},{"f":1985,"c":0.3},{"f":2010,"c":0.07}
]
},
"concat":[
{"width":344,"height":191,"data":{"name":"p1"},"transform":[{"fold":["l","h","e","c","m"],"as":["k","v"]},{"filter":"isValid(datum.v)"}],"layer":[
{"mark":{"type":"line","clip":true},
"encoding":{
"x":{"field":"f","type":"quantitative","scale":{"type":"log","domain":[30.5,2010],"nice":false},"axis":{"title":"frequency [Hz]","values":[31.25,62.5,125,250,500,600,700,800,900,1000,1200,1400,1600,1800,2000],"labelExpr":"datum.value == 31.25 ? '31.3' : (indexof([62.5,125,250,500,1000,2000], datum.value) >= 0 ? toString(datum.value) : '')","gridColor":{"condition":{"test":"indexof([31.25,62.5,125,250,500,1000,2000], datum.value) >= 0","value":"#c4c4c4"},"value":"#e2e2e2"}}},
"y":{"field":"v","type":"quantitative","scale":{"type":"log","domain":[0.0001,2.1],"nice":false},"axis":{"title":"W","titleX":-71,"titleY":147,"titleAngle":270,"titleAlign":"left","titleBaseline":"alphabetic","values":[0.0001,0.0002,0.0003,0.0004,0.0005,0.0006,0.0007,0.0008,0.0009,0.001,0.002,0.003,0.004,0.005,0.006,0.007,0.008,0.009,0.01,0.02,0.03,0.04,0.05,0.06,0.07,0.08,0.09,0.1,0.2,0.3,0.4,0.5,0.6,0.7,0.8,0.9,1],"labelExpr":"indexof([0.001,0.01,0.1,1], datum.value) >= 0 ? toString(datum.value) : ''","gridColor":{"condition":{"test":"indexof([0.0001,0.001,0.01,0.1,1], datum.value) >= 0","value":"#c4c4c4"},"value":"#e2e2e2"}}},
"color":{"field":"k","type":"nominal","scale":{"domain":["c","e","l","h","m"],"range":["#1432ff","#000000","#a0a0a0","#a0a0a0","#ff0000"]},"legend":{"title":null,"values":["c","e","l","m"],"labelExpr":"datum.value == 'c' ? 'Coherence' : datum.value == 'e' ? 'Experimental' : datum.value == 'l' ? 'Exp., confidence interval' : 'Model WuxFx'"}},
"strokeDash":{"field":"k","type":"nominal","scale":{"domain":["c","e","l","h","m"],"range":[[2.5,1.5],[1,0],[2,1],[2,1],[1,0]]},"legend":{"title":null,"values":["c","e","l","m"],"labelExpr":"datum.value == 'c' ? 'Coherence' : datum.value == 'e' ? 'Experimental' : datum.value == 'l' ? 'Exp., confidence interval' : 'Model WuxFx'"}},
"strokeWidth":{"field":"k","type":"nominal","scale":{"type":"ordinal","domain":["c","e","l","h","m"],"range":[3,3.5,4,4,3.5]},"legend":{"title":null,"values":["c","e","l","m"],"labelExpr":"datum.value == 'c' ? 'Coherence' : datum.value == 'e' ? 'Experimental' : datum.value == 'l' ? 'Exp., confidence interval' : 'Model WuxFx'"}}
}},
{"mark":{"type":"line","opacity":0},"encoding":{"x":{"field":"f","type":"quantitative"},"y":{"field":"v","type":"quantitative","axis":{"orient":"left","title":"uxFx","titleFontSize":12,"titleX":-67,"titleY":129,"titleAngle":270,"titleAlign":"left","titleBaseline":"alphabetic","labels":false,"grid":false,"ticks":false,"domain":false}}}},
{"mark":{"type":"line","opacity":0},"encoding":{"x":{"field":"f","type":"quantitative"},"y":{"field":"v","type":"quantitative","axis":{"orient":"left","title":"[μm/N]","titleX":-71,"titleY":100,"titleAngle":270,"titleAlign":"left","titleBaseline":"alphabetic","labels":false,"grid":false,"ticks":false,"domain":false}}}}
],"resolve":{"axis":{"y":"independent"}}},

{"width":344,"height":191,"data":{"name":"p2"},"transform":[{"fold":["l","h","e","c","m"],"as":["k","v"]},{"filter":"isValid(datum.v)"}],"layer":[
{"mark":{"type":"line","clip":true},
"encoding":{
"x":{"field":"f","type":"quantitative","scale":{"type":"log","domain":[30.5,2010],"nice":false},"axis":{"title":"frequency [Hz]","values":[31.25,62.5,125,250,500,600,700,800,900,1000,1200,1400,1600,1800,2000],"labelExpr":"datum.value == 31.25 ? '31.3' : (indexof([62.5,125,250,500,1000,2000], datum.value) >= 0 ? toString(datum.value) : '')","gridColor":{"condition":{"test":"indexof([31.25,62.5,125,250,500,1000,2000], datum.value) >= 0","value":"#c4c4c4"},"value":"#e2e2e2"}}},
"y":{"field":"v","type":"quantitative","scale":{"type":"log","domain":[0.0001,2.1],"nice":false},"axis":{"title":"W","titleX":-71,"titleY":147,"titleAngle":270,"titleAlign":"left","titleBaseline":"alphabetic","values":[0.0001,0.0002,0.0003,0.0004,0.0005,0.0006,0.0007,0.0008,0.0009,0.001,0.002,0.003,0.004,0.005,0.006,0.007,0.008,0.009,0.01,0.02,0.03,0.04,0.05,0.06,0.07,0.08,0.09,0.1,0.2,0.3,0.4,0.5,0.6,0.7,0.8,0.9,1],"labelExpr":"indexof([0.001,0.01,0.1,1], datum.value) >= 0 ? toString(datum.value) : ''","gridColor":{"condition":{"test":"indexof([0.0001,0.001,0.01,0.1,1], datum.value) >= 0","value":"#c4c4c4"},"value":"#e2e2e2"}}},
"color":{"field":"k","type":"nominal","scale":{"domain":["c","e","l","h","m"],"range":["#1432ff","#000000","#a0a0a0","#a0a0a0","#ff0000"]},"legend":{"title":null,"values":["c","e","l","m"],"labelExpr":"datum.value == 'c' ? 'Coherence' : datum.value == 'e' ? 'Experimental' : datum.value == 'l' ? 'Exp., confidence interval' : 'Model WuyFy'"}},
"strokeDash":{"field":"k","type":"nominal","scale":{"domain":["c","e","l","h","m"],"range":[[2.5,1.5],[1,0],[2,1],[2,1],[1,0]]},"legend":{"title":null,"values":["c","e","l","m"],"labelExpr":"datum.value == 'c' ? 'Coherence' : datum.value == 'e' ? 'Experimental' : datum.value == 'l' ? 'Exp., confidence interval' : 'Model WuyFy'"}},
"strokeWidth":{"field":"k","type":"nominal","scale":{"type":"ordinal","domain":["c","e","l","h","m"],"range":[3,3.5,4,4,3.5]},"legend":{"title":null,"values":["c","e","l","m"],"labelExpr":"datum.value == 'c' ? 'Coherence' : datum.value == 'e' ? 'Experimental' : datum.value == 'l' ? 'Exp., confidence interval' : 'Model WuyFy'"}}
}},
{"mark":{"type":"line","opacity":0},"encoding":{"x":{"field":"f","type":"quantitative"},"y":{"field":"v","type":"quantitative","axis":{"orient":"left","title":"uyFy","titleFontSize":12,"titleX":-67,"titleY":129,"titleAngle":270,"titleAlign":"left","titleBaseline":"alphabetic","labels":false,"grid":false,"ticks":false,"domain":false}}}},
{"mark":{"type":"line","opacity":0},"encoding":{"x":{"field":"f","type":"quantitative"},"y":{"field":"v","type":"quantitative","axis":{"orient":"left","title":"[μm/N]","titleX":-71,"titleY":100,"titleAngle":270,"titleAlign":"left","titleBaseline":"alphabetic","labels":false,"grid":false,"ticks":false,"domain":false}}}}
],"resolve":{"axis":{"y":"independent"}}},

{"width":344,"height":191,"data":{"name":"p3"},"transform":[{"fold":["l","h","e","c","m"],"as":["k","v"]},{"filter":"isValid(datum.v)"}],"layer":[
{"mark":{"type":"line","clip":true},
"encoding":{
"x":{"field":"f","type":"quantitative","scale":{"type":"log","domain":[30.5,2010],"nice":false},"axis":{"title":"frequency [Hz]","values":[31.25,62.5,125,250,500,600,700,800,900,1000,1200,1400,1600,1800,2000],"labelExpr":"datum.value == 31.25 ? '31.3' : (indexof([62.5,125,250,500,1000,2000], datum.value) >= 0 ? toString(datum.value) : '')","gridColor":{"condition":{"test":"indexof([31.25,62.5,125,250,500,1000,2000], datum.value) >= 0","value":"#c4c4c4"},"value":"#e2e2e2"}}},
"y":{"field":"v","type":"quantitative","scale":{"type":"log","domain":[0.0001,2.1],"nice":false},"axis":{"title":"W","titleX":-71,"titleY":155.5,"titleAngle":270,"titleAlign":"left","titleBaseline":"alphabetic","values":[0.0001,0.0002,0.0003,0.0004,0.0005,0.0006,0.0007,0.0008,0.0009,0.001,0.002,0.003,0.004,0.005,0.006,0.007,0.008,0.009,0.01,0.02,0.03,0.04,0.05,0.06,0.07,0.08,0.09,0.1,0.2,0.3,0.4,0.5,0.6,0.7,0.8,0.9,1],"labelExpr":"indexof([0.001,0.01,0.1,1], datum.value) >= 0 ? toString(datum.value) : ''","gridColor":{"condition":{"test":"indexof([0.0001,0.001,0.01,0.1,1], datum.value) >= 0","value":"#c4c4c4"},"value":"#e2e2e2"}}},
"color":{"field":"k","type":"nominal","scale":{"domain":["c","e","l","h","m"],"range":["#1432ff","#000000","#a0a0a0","#a0a0a0","#ff0000"]},"legend":{"title":null,"values":["c","e","l","m"],"labelExpr":"datum.value == 'c' ? 'Coherence' : datum.value == 'e' ? 'Experimental' : datum.value == 'l' ? 'Exp., confidence interval' : 'Model νWuxFx'"}},
"strokeDash":{"field":"k","type":"nominal","scale":{"domain":["c","e","l","h","m"],"range":[[2.5,1.5],[1,0],[2,1],[2,1],[1,0]]},"legend":{"title":null,"values":["c","e","l","m"],"labelExpr":"datum.value == 'c' ? 'Coherence' : datum.value == 'e' ? 'Experimental' : datum.value == 'l' ? 'Exp., confidence interval' : 'Model νWuxFx'"}},
"strokeWidth":{"field":"k","type":"nominal","scale":{"type":"ordinal","domain":["c","e","l","h","m"],"range":[3,3.5,4,4,3.5]},"legend":{"title":null,"values":["c","e","l","m"],"labelExpr":"datum.value == 'c' ? 'Coherence' : datum.value == 'e' ? 'Experimental' : datum.value == 'l' ? 'Exp., confidence interval' : 'Model νWuxFx'"}}
}},
{"mark":{"type":"line","opacity":0},"encoding":{"x":{"field":"f","type":"quantitative"},"y":{"field":"v","type":"quantitative","axis":{"orient":"left","title":"uxMy","titleFontSize":12,"titleX":-67,"titleY":137.6,"titleAngle":270,"titleAlign":"left","titleBaseline":"alphabetic","labels":false,"grid":false,"ticks":false,"domain":false}}}},
{"mark":{"type":"line","opacity":0},"encoding":{"x":{"field":"f","type":"quantitative"},"y":{"field":"v","type":"quantitative","axis":{"orient":"left","title":"[μ/(Nm)]","titleX":-71,"titleY":104,"titleAngle":270,"titleAlign":"left","titleBaseline":"alphabetic","labels":false,"grid":false,"ticks":false,"domain":false}}}}
],"resolve":{"axis":{"y":"independent"}}},

{"width":344,"height":191,"data":{"name":"p4"},"transform":[{"fold":["l","h","e","c","m"],"as":["k","v"]},{"filter":"isValid(datum.v)"}],"layer":[
{"mark":{"type":"line","clip":true},
"encoding":{
"x":{"field":"f","type":"quantitative","scale":{"type":"log","domain":[30.5,2010],"nice":false},"axis":{"title":"frequency [Hz]","values":[31.25,62.5,125,250,500,600,700,800,900,1000,1200,1400,1600,1800,2000],"labelExpr":"datum.value == 31.25 ? '31.3' : (indexof([62.5,125,250,500,1000,2000], datum.value) >= 0 ? toString(datum.value) : '')","gridColor":{"condition":{"test":"indexof([31.25,62.5,125,250,500,1000,2000], datum.value) >= 0","value":"#c4c4c4"},"value":"#e2e2e2"}}},
"y":{"field":"v","type":"quantitative","scale":{"type":"log","domain":[0.0001,2.1],"nice":false},"axis":{"title":"W","titleX":-71,"titleY":163,"titleAngle":270,"titleAlign":"left","titleBaseline":"alphabetic","values":[0.0001,0.0002,0.0003,0.0004,0.0005,0.0006,0.0007,0.0008,0.0009,0.001,0.002,0.003,0.004,0.005,0.006,0.007,0.008,0.009,0.01,0.02,0.03,0.04,0.05,0.06,0.07,0.08,0.09,0.1,0.2,0.3,0.4,0.5,0.6,0.7,0.8,0.9,1],"labelExpr":"indexof([0.001,0.01,0.1,1], datum.value) >= 0 ? toString(datum.value) : ''","gridColor":{"condition":{"test":"indexof([0.0001,0.001,0.01,0.1,1], datum.value) >= 0","value":"#c4c4c4"},"value":"#e2e2e2"}}},
"color":{"field":"k","type":"nominal","scale":{"domain":["c","e","l","h","m"],"range":["#1432ff","#000000","#a0a0a0","#a0a0a0","#ff0000"]},"legend":{"title":null,"values":["c","e","l","m"],"labelExpr":"datum.value == 'c' ? 'Coherence' : datum.value == 'e' ? 'Experimental' : datum.value == 'l' ? 'Exp., confidence interval' : 'Model νWuyFy'"}},
"strokeDash":{"field":"k","type":"nominal","scale":{"domain":["c","e","l","h","m"],"range":[[2.5,1.5],[1,0],[2,1],[2,1],[1,0]]},"legend":{"title":null,"values":["c","e","l","m"],"labelExpr":"datum.value == 'c' ? 'Coherence' : datum.value == 'e' ? 'Experimental' : datum.value == 'l' ? 'Exp., confidence interval' : 'Model νWuyFy'"}},
"strokeWidth":{"field":"k","type":"nominal","scale":{"type":"ordinal","domain":["c","e","l","h","m"],"range":[3,3.5,4,4,3.5]},"legend":{"title":null,"values":["c","e","l","m"],"labelExpr":"datum.value == 'c' ? 'Coherence' : datum.value == 'e' ? 'Experimental' : datum.value == 'l' ? 'Exp., confidence interval' : 'Model νWuyFy'"}}
}},
{"mark":{"type":"line","opacity":0},"encoding":{"x":{"field":"f","type":"quantitative"},"y":{"field":"v","type":"quantitative","axis":{"orient":"left","title":"uyMx","titleFontSize":12,"titleX":-67,"titleY":145,"titleAngle":270,"titleAlign":"left","titleBaseline":"alphabetic","labels":false,"grid":false,"ticks":false,"domain":false}}}},
{"mark":{"type":"line","opacity":0},"encoding":{"x":{"field":"f","type":"quantitative"},"y":{"field":"v","type":"quantitative","axis":{"orient":"left","title":"[μm/(Nm)]","titleX":-71,"titleY":111.5,"titleAngle":270,"titleAlign":"left","titleBaseline":"alphabetic","labels":false,"grid":false,"ticks":false,"domain":false}}}}
],"resolve":{"axis":{"y":"independent"}}},

{"width":344,"height":191,"data":{"name":"p5"},"transform":[{"fold":["l","h","e","c","m"],"as":["k","v"]},{"filter":"isValid(datum.v)"}],"layer":[
{"mark":{"type":"line","clip":true},
"encoding":{
"x":{"field":"f","type":"quantitative","scale":{"type":"log","domain":[30.5,2010],"nice":false},"axis":{"title":"frequency [Hz]","values":[31.25,62.5,125,250,500,600,700,800,900,1000,1200,1400,1600,1800,2000],"labelExpr":"datum.value == 31.25 ? '31.3' : (indexof([62.5,125,250,500,1000,2000], datum.value) >= 0 ? toString(datum.value) : '')","gridColor":{"condition":{"test":"indexof([31.25,62.5,125,250,500,1000,2000], datum.value) >= 0","value":"#c4c4c4"},"value":"#e2e2e2"}}},
"y":{"field":"v","type":"quantitative","scale":{"type":"log","domain":[0.0001,2.1],"nice":false},"axis":{"title":"W","titleX":-71,"titleY":152.6,"titleAngle":270,"titleAlign":"left","titleBaseline":"alphabetic","values":[0.0001,0.0002,0.0003,0.0004,0.0005,0.0006,0.0007,0.0008,0.0009,0.001,0.002,0.003,0.004,0.005,0.006,0.007,0.008,0.009,0.01,0.02,0.03,0.04,0.05,0.06,0.07,0.08,0.09,0.1,0.2,0.3,0.4,0.5,0.6,0.7,0.8,0.9,1],"labelExpr":"indexof([0.001,0.01,0.1,1], datum.value) >= 0 ? toString(datum.value) : ''","gridColor":{"condition":{"test":"indexof([0.0001,0.001,0.01,0.1,1], datum.value) >= 0","value":"#c4c4c4"},"value":"#e2e2e2"}}},
"color":{"field":"k","type":"nominal","scale":{"domain":["c","e","l","h","m"],"range":["#1432ff","#000000","#a0a0a0","#a0a0a0","#ff0000"]},"legend":{"title":null,"values":["c","e","l","m"],"labelExpr":"datum.value == 'c' ? 'Coherence' : datum.value == 'e' ? 'Experimental' : datum.value == 'l' ? 'Exp., confidence interval' : 'Model νWuxFx'"}},
"strokeDash":{"field":"k","type":"nominal","scale":{"domain":["c","e","l","h","m"],"range":[[2.5,1.5],[1,0],[2,1],[2,1],[1,0]]},"legend":{"title":null,"values":["c","e","l","m"],"labelExpr":"datum.value == 'c' ? 'Coherence' : datum.value == 'e' ? 'Experimental' : datum.value == 'l' ? 'Exp., confidence interval' : 'Model νWuxFx'"}},
"strokeWidth":{"field":"k","type":"nominal","scale":{"type":"ordinal","domain":["c","e","l","h","m"],"range":[3,3.5,4,4,3.5]},"legend":{"title":null,"values":["c","e","l","m"],"labelExpr":"datum.value == 'c' ? 'Coherence' : datum.value == 'e' ? 'Experimental' : datum.value == 'l' ? 'Exp., confidence interval' : 'Model νWuxFx'"}}
}},
{"mark":{"type":"line","opacity":0},"encoding":{"x":{"field":"f","type":"quantitative"},"y":{"field":"v","type":"quantitative","axis":{"orient":"left","title":"ϑyFx","titleFontSize":12,"titleX":-67,"titleY":134.7,"titleAngle":270,"titleAlign":"left","titleBaseline":"alphabetic","labels":false,"grid":false,"ticks":false,"domain":false}}}},
{"mark":{"type":"line","opacity":0},"encoding":{"x":{"field":"f","type":"quantitative"},"y":{"field":"v","type":"quantitative","axis":{"orient":"left","title":"[μrad/N]","titleX":-71,"titleY":103.8,"titleAngle":270,"titleAlign":"left","titleBaseline":"alphabetic","labels":false,"grid":false,"ticks":false,"domain":false}}}}
],"resolve":{"axis":{"y":"independent"}}},

{"width":344,"height":191,"data":{"name":"p6"},"transform":[{"fold":["l","h","e","c","m"],"as":["k","v"]},{"filter":"isValid(datum.v)"}],"layer":[
{"mark":{"type":"line","clip":true},
"encoding":{
"x":{"field":"f","type":"quantitative","scale":{"type":"log","domain":[30.5,2010],"nice":false},"axis":{"title":"frequency [Hz]","values":[31.25,62.5,125,250,500,600,700,800,900,1000,1200,1400,1600,1800,2000],"labelExpr":"datum.value == 31.25 ? '31.3' : (indexof([62.5,125,250,500,1000,2000], datum.value) >= 0 ? toString(datum.value) : '')","gridColor":{"condition":{"test":"indexof([31.25,62.5,125,250,500,1000,2000], datum.value) >= 0","value":"#c4c4c4"},"value":"#e2e2e2"}}},
"y":{"field":"v","type":"quantitative","scale":{"type":"log","domain":[0.0001,2.1],"nice":false},"axis":{"title":"W","titleX":-71,"titleY":152.6,"titleAngle":270,"titleAlign":"left","titleBaseline":"alphabetic","values":[0.0001,0.0002,0.0003,0.0004,0.0005,0.0006,0.0007,0.0008,0.0009,0.001,0.002,0.003,0.004,0.005,0.006,0.007,0.008,0.009,0.01,0.02,0.03,0.04,0.05,0.06,0.07,0.08,0.09,0.1,0.2,0.3,0.4,0.5,0.6,0.7,0.8,0.9,1],"labelExpr":"indexof([0.001,0.01,0.1,1], datum.value) >= 0 ? toString(datum.value) : ''","gridColor":{"condition":{"test":"indexof([0.0001,0.001,0.01,0.1,1], datum.value) >= 0","value":"#c4c4c4"},"value":"#e2e2e2"}}},
"color":{"field":"k","type":"nominal","scale":{"domain":["c","e","l","h","m"],"range":["#1432ff","#000000","#a0a0a0","#a0a0a0","#ff0000"]},"legend":{"title":null,"values":["c","e","l","m"],"labelExpr":"datum.value == 'c' ? 'Coherence' : datum.value == 'e' ? 'Experimental' : datum.value == 'l' ? 'Exp., confidence interval' : 'Model νWuyFy'"}},
"strokeDash":{"field":"k","type":"nominal","scale":{"domain":["c","e","l","h","m"],"range":[[2.5,1.5],[1,0],[2,1],[2,1],[1,0]]},"legend":{"title":null,"values":["c","e","l","m"],"labelExpr":"datum.value == 'c' ? 'Coherence' : datum.value == 'e' ? 'Experimental' : datum.value == 'l' ? 'Exp., confidence interval' : 'Model νWuyFy'"}},
"strokeWidth":{"field":"k","type":"nominal","scale":{"type":"ordinal","domain":["c","e","l","h","m"],"range":[3,3.5,4,4,3.5]},"legend":{"title":null,"values":["c","e","l","m"],"labelExpr":"datum.value == 'c' ? 'Coherence' : datum.value == 'e' ? 'Experimental' : datum.value == 'l' ? 'Exp., confidence interval' : 'Model νWuyFy'"}}
}},
{"mark":{"type":"line","opacity":0},"encoding":{"x":{"field":"f","type":"quantitative"},"y":{"field":"v","type":"quantitative","axis":{"orient":"left","title":"ϑxFy","titleFontSize":12,"titleX":-67,"titleY":134.7,"titleAngle":270,"titleAlign":"left","titleBaseline":"alphabetic","labels":false,"grid":false,"ticks":false,"domain":false}}}},
{"mark":{"type":"line","opacity":0},"encoding":{"x":{"field":"f","type":"quantitative"},"y":{"field":"v","type":"quantitative","axis":{"orient":"left","title":"[μrad/N]","titleX":-71,"titleY":103.8,"titleAngle":270,"titleAlign":"left","titleBaseline":"alphabetic","labels":false,"grid":false,"ticks":false,"domain":false}}}}
],"resolve":{"axis":{"y":"independent"}}}
],
"resolve":{"scale":{"color":"independent","strokeDash":"independent","strokeWidth":"independent"},"legend":{"color":"independent","strokeDash":"independent","strokeWidth":"independent"}},
"config":{
"view":{"stroke":"#555555","strokeWidth":1},
"axis":{"labelFont":"Liberation Sans","labelFontSize":18,"labelColor":"#111111","titleFont":"Liberation Serif","titleFontSize":19,"titleFontWeight":"normal","titleColor":"#111111","domain":false,"ticks":false,"labelOverlap":false,"labelFlush":false,"labelBound":false,"gridWidth":1},
"axisX":{"labelPadding":6,"titlePadding":8},
"axisY":{"labelPadding":8},
"legend":{"orient":"bottom-left","offset":8,"strokeColor":"#000000","fillColor":"#ffffff","padding":6,"labelFont":"Liberation Sans","labelFontSize":14,"labelColor":"#000000","symbolType":"stroke","symbolSize":2500,"clipHeight":17,"rowPadding":0.5,"labelOffset":6,"symbolOffset":2,"labelLimit":300},
"line":{"strokeCap":"butt","strokeJoin":"miter"}
}
}
